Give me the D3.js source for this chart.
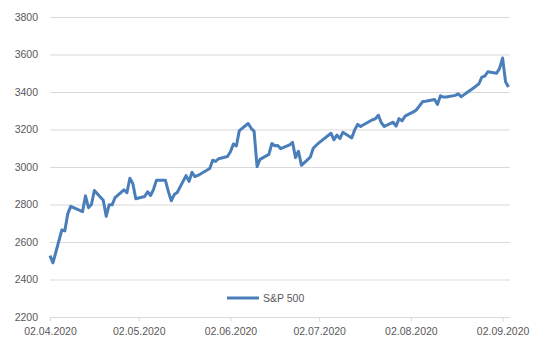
<html>
<head>
<meta charset="utf-8">
<title>S&amp;P 500</title>
<script src="https://cdn.jsdelivr.net/npm/d3@7"></script>
<style>
  body { margin: 0; background: #fff; }
  text { font-family: "Liberation Sans", Arial, sans-serif; }
</style>
</head>
<body>
<svg width="543" height="353"></svg>
<script>
var dates = ["2020-04-02","2020-04-03","2020-04-06","2020-04-07","2020-04-08","2020-04-09","2020-04-13","2020-04-14","2020-04-15","2020-04-16","2020-04-17",
  "2020-04-20","2020-04-21","2020-04-22","2020-04-23","2020-04-24","2020-04-27","2020-04-28","2020-04-29","2020-04-30","2020-05-01",
  "2020-05-04","2020-05-05","2020-05-06","2020-05-07","2020-05-08","2020-05-11","2020-05-12","2020-05-13","2020-05-14","2020-05-15",
  "2020-05-18","2020-05-19","2020-05-20","2020-05-21","2020-05-22","2020-05-26","2020-05-27","2020-05-28","2020-05-29",
  "2020-06-01","2020-06-02","2020-06-03","2020-06-04","2020-06-05","2020-06-08","2020-06-09","2020-06-10","2020-06-11","2020-06-12",
  "2020-06-15","2020-06-16","2020-06-17","2020-06-18","2020-06-19","2020-06-22","2020-06-23","2020-06-24","2020-06-25","2020-06-26",
  "2020-06-29","2020-06-30","2020-07-01","2020-07-02","2020-07-06","2020-07-07","2020-07-08","2020-07-09","2020-07-10",
  "2020-07-13","2020-07-14","2020-07-15","2020-07-16","2020-07-17","2020-07-20","2020-07-21","2020-07-22","2020-07-23","2020-07-24",
  "2020-07-27","2020-07-28","2020-07-29","2020-07-30","2020-07-31","2020-08-03","2020-08-04","2020-08-05","2020-08-06","2020-08-07",
  "2020-08-10","2020-08-11","2020-08-12","2020-08-13","2020-08-14","2020-08-17","2020-08-18","2020-08-19","2020-08-20","2020-08-21",
  "2020-08-24","2020-08-25","2020-08-26","2020-08-27","2020-08-28","2020-08-31","2020-09-01","2020-09-02","2020-09-03","2020-09-04"];

var sp500 = [2527,2489,2664,2659,2750,2790,2762,2846,2783,2800,2875,
  2823,2737,2799,2798,2837,2878,2863,2940,2912,2831,
  2843,2868,2848,2881,2930,2930,2870,2820,2853,2864,
  2954,2923,2972,2949,2955,2992,3036,3030,3044,
  3056,3081,3123,3112,3194,3232,3207,3190,3002,3041,
  3067,3125,3113,3115,3098,3118,3131,3050,3084,3009,
  3053,3100,3116,3130,3180,3145,3170,3152,3185,
  3155,3198,3227,3216,3225,3252,3257,3276,3236,3216,
  3239,3218,3258,3246,3271,3295,3307,3328,3349,3351,
  3360,3334,3380,3373,3373,3382,3390,3375,3386,3397,
  3431,3444,3479,3485,3508,3500,3527,3581,3455,3427];

var xTicks = ["2020-04-02","2020-05-02","2020-06-02","2020-07-02","2020-08-02","2020-09-02"];
var yTicks = [2200,2400,2600,2800,3000,3200,3400,3600,3800];
var seriesName = "S&P 500";

var parse = d3.utcParse("%Y-%m-%d");
var fmt = d3.utcFormat("%d.%m.%Y");
var data = dates.map(function(d, i){ return {date: parse(d), value: sp500[i]}; });

var svg = d3.select("svg");
var plot = {left: 50, right: 510, top: 17, bottom: 317};

var x = d3.scaleUtc()
  .domain([parse(dates[0]), parse(dates[dates.length - 1])])
  .range([plot.left, plot.right - 1.5]);
var y = d3.scaleLinear()
  .domain([2200, 3800])
  .range([plot.bottom, plot.top]);

// gridlines
svg.append("g")
  .selectAll("line")
  .data(yTicks)
  .enter().append("line")
  .attr("x1", plot.left).attr("x2", plot.right)
  .attr("y1", d => y(d) + 0.5).attr("y2", d => y(d) + 0.5)
  .attr("stroke", "#d9d9d9").attr("stroke-width", 1);

// y axis labels
var yAxis = svg.append("g")
  .attr("transform", `translate(${plot.left},0)`)
  .call(d3.axisLeft(y).tickValues(yTicks).tickSize(0).tickPadding(12).tickFormat(d3.format("d")));
yAxis.select(".domain").remove();
yAxis.selectAll("text")
  .attr("fill", "#595959")
  .style("font-size", "10.5px")
  .style("font-family", "'Liberation Sans', Arial, sans-serif");

// x axis
var xAxis = svg.append("g")
  .attr("transform", `translate(0,${plot.bottom + 0.5})`)
  .call(d3.axisBottom(x).tickValues(xTicks.map(parse)).tickSize(4).tickSizeOuter(0).tickPadding(6).tickFormat(fmt));
xAxis.select(".domain").attr("stroke", "#d9d9d9").attr("d", `M${plot.left},0H${plot.right}`);
xAxis.selectAll(".tick line").attr("stroke", "#d9d9d9");
xAxis.selectAll("text")
  .attr("fill", "#595959")
  .style("font-size", "10.5px")
  .style("font-family", "'Liberation Sans', Arial, sans-serif");

// series line
var line = d3.line()
  .x(d => x(d.date))
  .y(d => y(d.value));

svg.append("path")
  .datum(data)
  .attr("d", line)
  .attr("fill", "none")
  .attr("stroke", "#4a7ebb")
  .attr("stroke-width", 3)
  .attr("stroke-linejoin", "round");

// legend
var lg = svg.append("g").attr("transform", "translate(227,298)");
lg.append("line")
  .attr("x1", 0).attr("x2", 32)
  .attr("y1", 0).attr("y2", 0)
  .attr("stroke", "#4a7ebb").attr("stroke-width", 3);
lg.append("text")
  .attr("x", 36).attr("y", 0).attr("dy", "0.35em")
  .attr("fill", "#595959")
  .style("font-size", "10.5px")
  .text(seriesName);
</script>
</body>
</html>
